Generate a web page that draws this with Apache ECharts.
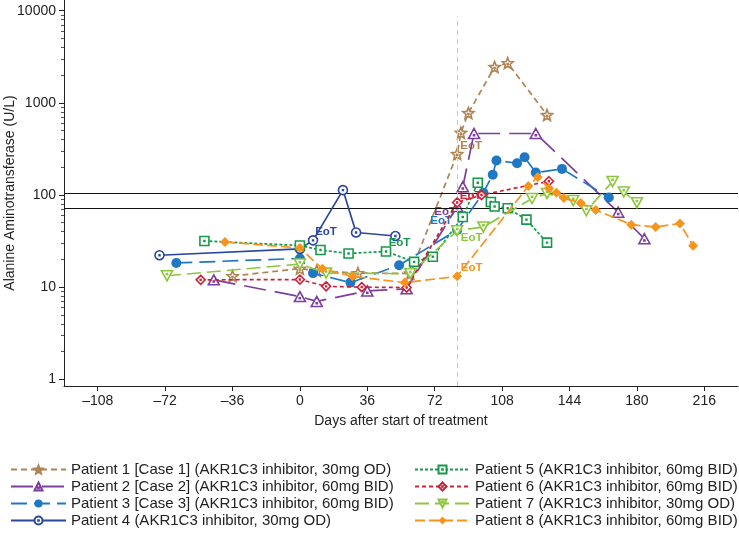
<!DOCTYPE html>
<html><head><meta charset="utf-8">
<script src="https://cdn.jsdelivr.net/npm/echarts@6/dist/echarts.min.js"></script>
<style>html,body{margin:0;padding:0;background:#fff}#c{width:739px;height:536px}</style>
</head><body><div id="c"></div>
<script>
// ---------- data ----------
const xTicks = [-108, -72, -36, 0, 36, 72, 108, 144, 180, 216];
const yTicks = [1, 10, 100, 1000, 10000];
const yMinorTicks = [2,3,4,5,6,7,8,9,20,30,40,50,60,70,80,90,200,300,400,500,600,700,800,900,2000,3000,4000,5000,6000,7000,8000,9000];
const refLines = [105, 72];
const eotDay = 84;

const names = [
  'Patient 1 [Case 1] (AKR1C3 inhibitor, 30mg OD)',
  'Patient 2 [Case 2] (AKR1C3 inhibitor, 60mg BID)',
  'Patient 3 [Case 3] (AKR1C3 inhibitor, 60mg BID)',
  'Patient 4 (AKR1C3 inhibitor, 30mg OD)',
  'Patient 5 (AKR1C3 inhibitor, 60mg BID)',
  'Patient 6 (AKR1C3 inhibitor, 60mg BID)',
  'Patient 7 (AKR1C3 inhibitor, 30mg OD)',
  'Patient 8 (AKR1C3 inhibitor, 60mg BID)'
];

const p1Days = [-36, 0, 9, 31, 59, 84, 86, 90, 104, 111, 132];
const p1Vals = [13.2, 15.9, 15.1, 14.2, 14.1, 279, 474, 776, 2449, 2705, 738];
const p2Days = [-46, 0, 9, 36, 57, 84, 87, 93, 126, 170, 184];
const p2Vals = [12.0, 7.9, 7.0, 9.1, 9.6, 75, 123, 465, 465, 65, 33.5];
const p3Days = [-66, 0, 7, 27, 53, 84, 98, 103, 105, 116, 120, 126, 140, 165];
const p3Vals = [18.3, 20.5, 14.2, 11.2, 17.3, 41.7, 106, 166, 237, 221, 257, 175, 192, 94];
const p4Days = [-75, 0, 7, 23, 30, 51];
const p4Vals = [22.2, 26, 32.2, 113, 39.2, 35.9];
const p5Days = [-51, 0, 11, 26, 46, 61, 71, 87, 95, 102, 104, 111, 121, 132];
const p5Vals = [31.7, 28.3, 25.3, 23.2, 24.4, 18.8, 21.4, 57.7, 136, 84, 75, 71.8, 54, 30.4];
const p6Days = [-53, 0, 14, 33, 57, 84, 97, 133];
const p6Vals = [12.0, 12.1, 10.2, 10.0, 9.9, 83, 100, 141];
const p7Days = [-71, 0, 14, 59, 84, 98, 124, 132, 146, 153, 167, 173, 180];
const p7Vals = [13.3, 17.8, 14.2, 14, 41, 45, 91.6, 104, 87, 67.6, 140, 108, 82.5];
const p8Days = [-40, 0, 12, 28, 56, 84, 122, 127, 133, 137, 141, 150, 158, 177, 190, 203, 210];
const p8Vals = [30.9, 26.6, 15.8, 13.1, 11.2, 13.1, 125, 157, 118, 106, 92.7, 81.8, 68.7, 47.6, 45, 49, 28.2];
// index of the End-of-Treatment point in each series
const eotIndex = [5, 5, 5, 2, 4, 5, 4, 5];

// ---------- styles ----------
const DOT = 'M4.55,4.55L5.45,4.55L5.45,5.45L4.55,5.45Z';
const SYM = {
  star: 'path://M5,0L6.29,3.22L9.76,3.45L7.09,5.68L7.94,9.05L5,7.2L2.06,9.05L2.91,5.68L0.24,3.45L3.71,3.22Z' + 'M4.6,4.9L5.4,4.9L5.4,5.7L4.6,5.7Z',
  tri: 'path://M5,0L10,9L0,9ZM4.55,5.6L5.45,5.6L5.45,6.5L4.55,6.5Z',
  circ: 'path://M0,5A5,5 0 1,1 10,5A5,5 0 1,1 0,5Z' + DOT,
  sq: 'path://M0,0L10,0L10,10L0,10Z' + DOT,
  dia: 'path://M5,0L10,5L5,10L0,5Z' + DOT,
  dtri: 'path://M0,0L10,0L5,9ZM4.55,2.5L5.45,2.5L5.45,3.4L4.55,3.4Z'
};
const styles = [
  {color: '#b08352', symbol: SYM.star, size: 11, dash: [6, 4], filled: false, eot: [14, -8]},
  {color: '#7d3f9f', symbol: SYM.tri, size: [11, 10], dash: [22, 9], filled: false, eot: [-12, 5]},
  {color: '#1f78c4', symbol: 'circle', size: 10, dash: [16, 7], filled: true, eot: [-16, -9]},
  {color: '#2b479f', symbol: SYM.circ, size: 9, dash: 'solid', filled: false, eot: [13, -9]},
  {color: '#16994b', symbol: SYM.sq, size: 9, dash: [3, 2], filled: false, eot: [13.5, -8.5]},
  {color: '#cc2238', symbol: SYM.dia, size: 9, dash: [4, 3], filled: false, eot: [13.4, -6.5]},
  {color: '#8dc63f', symbol: SYM.dtri, size: [11, 10], dash: [14, 6], filled: false, eot: [14.4, 7.6]},
  {color: '#f7941d', symbol: 'diamond', size: 10, dash: [10, 4], filled: true, eot: [14.4, -8.6]}
];

const allDays = [p1Days, p2Days, p3Days, p4Days, p5Days, p6Days, p7Days, p8Days];
const allVals = [p1Vals, p2Vals, p3Vals, p4Vals, p5Vals, p6Vals, p7Vals, p8Vals];

const FONT = "'Liberation Sans', Arial, sans-serif";

const series = names.map((name, i) => {
  const st = styles[i];
  const data = allDays[i].map((d, k) => {
    const item = {value: [d, allVals[i][k]]};
    if (k === eotIndex[i]) {
      item.label = {
        show: true, formatter: 'EoT', position: 'inside', offset: st.eot,
        color: st.color, fontSize: 11.5, fontWeight: 'bold', fontFamily: FONT,
        align: 'center', verticalAlign: 'middle'
      };
    }
    return item;
  });
  const s = {
    name: name, type: 'line', data: data,
    symbol: st.symbol, symbolSize: st.size, showAllSymbol: true,
    lineStyle: {color: st.color, width: 1.7, type: st.dash},
    itemStyle: st.filled ? {color: st.color, borderWidth: 0}
                         : {color: '#ffffff', borderColor: st.color, borderWidth: 1.6},
    label: {show: false},
    emphasis: {disabled: true},
    animation: false,
    z: 3 + i
  };
  if (i === 0) {
    s.markLine = {
      silent: true, symbol: 'none', animation: false,
      label: {show: false},
      data: [
        ...refLines.map(v => ({yAxis: v, lineStyle: {color: '#111', width: 1, type: 'solid'}})),
        [{coord: [eotDay, 0.846], lineStyle: {color: '#c9c9c9', width: 1, type: [5, 4]}},
         {coord: [eotDay, 8750]}]
      ]
    };
  }
  return s;
});

const legendCommon = {
  orient: 'vertical', top: 462, padding: 0,
  itemWidth: 55, itemHeight: 10, itemGap: 2,
  textStyle: {fontSize: 15, color: '#222', fontFamily: FONT, lineHeight: 15},
  selectedMode: false
};

const chart = echarts.init(document.getElementById('c'), null, {renderer: 'canvas'});
chart.setOption({
  backgroundColor: '#fff',
  animation: false,
  textStyle: {fontFamily: FONT},
  grid: {left: 64, right: 1, top: 0, bottom: 150, containLabel: false, outerBoundsMode: 'none'},
  xAxis: {
    type: 'value', min: -126, max: 234,
    name: 'Days after start of treatment', nameLocation: 'middle', nameGap: 28,
    nameTextStyle: {fontSize: 14, color: '#222', fontFamily: FONT},
    axisLine: {show: true, onZero: false, lineStyle: {color: '#222', width: 1}},
    axisTick: {show: true, length: 5, lineStyle: {color: '#222'}, customValues: xTicks},
    axisLabel: {fontSize: 14, color: '#222', margin: 8, fontFamily: FONT, customValues: xTicks,
      formatter: v => (v < 0 ? '\u2013' + Math.abs(v) : String(v))},
    splitLine: {show: false}
  },
  yAxis: [{
    type: 'log', logBase: 10, min: 0.846, max: 13060,
    name: 'Alanine Aminotransferase (U/L)', nameLocation: 'middle', nameGap: 47, nameRotate: 90,
    nameMoveOverlap: false,
    nameTextStyle: {fontSize: 14, color: '#222', fontFamily: FONT},
    axisLine: {show: true, onZero: false, lineStyle: {color: '#222', width: 1}},
    axisTick: {show: true, length: 5, lineStyle: {color: '#222'}, customValues: yTicks},
    axisLabel: {fontSize: 14, color: '#222', margin: 8, fontFamily: FONT, customValues: yTicks,
      formatter: v => String(Math.round(v))},
    splitLine: {show: false}
  }, {
    type: 'log', logBase: 10, min: 0.846, max: 13060, position: 'left',
    axisLine: {show: false, onZero: false},
    axisTick: {show: true, length: 3, lineStyle: {color: '#555'}, customValues: yMinorTicks},
    axisLabel: {show: false},
    splitLine: {show: false}
  }],
  legend: [
    Object.assign({}, legendCommon, {data: names.slice(0, 4), left: 10}),
    Object.assign({}, legendCommon, {data: names.slice(4), left: 414})
  ],
  series: series
});
</script>
</body></html>
